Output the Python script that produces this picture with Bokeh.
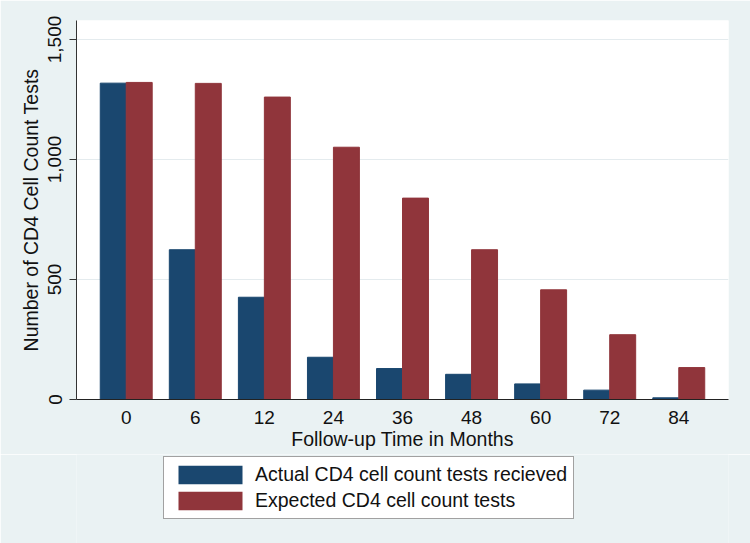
from bokeh.plotting import figure
from bokeh.layouts import column
from bokeh.models import (ColumnDataSource, FixedTicker, NumeralTickFormatter,
                          Legend, LegendItem, Range1d)
from bokeh.transform import dodge
from bokeh.embed import file_html
from bokeh.resources import INLINE

# ---- data ----
months = ["0", "6", "12", "24", "36", "48", "60", "72", "84"]
actual = [1318, 624, 426, 176, 129, 105, 65, 39, 7]
expected = [1321, 1317, 1260, 1051, 839, 624, 457, 270, 133]
y_ticks = [0, 500, 1000, 1500]
series_labels = ["Actual CD4 cell count tests recieved", "Expected CD4 cell count tests"]

NAVY = "#1a476f"
MAROON = "#90353b"
BG = "#eaf2f3"
FONT = "Liberation Sans"

pos = list(range(len(months)))
src = ColumnDataSource(dict(pos=pos, actual=actual, expected=expected))

p = figure(width=750, height=454, output_backend="svg", toolbar_location=None,
           x_range=Range1d(-0.72, 8.72), y_range=Range1d(0, 1579),
           min_border_left=76, min_border_right=22, min_border_top=20,
           min_border_bottom=55)
p.border_fill_color = BG
p.background_fill_color = "white"
p.outline_line_color = None

r1 = p.vbar(x=dodge("pos", -0.188), top="actual", width=0.376, source=src,
            fill_color=NAVY, line_color=NAVY)
r2 = p.vbar(x=dodge("pos", 0.188), top="expected", width=0.376, source=src,
            fill_color=MAROON, line_color=MAROON)

# axes
p.xaxis.ticker = FixedTicker(ticks=pos)
p.xaxis.major_label_overrides = {i: m for i, m in enumerate(months)}
p.xaxis.major_tick_out = 0
p.xaxis.major_tick_in = 0
p.xaxis.minor_tick_out = 0
p.xaxis.minor_tick_in = 0
p.xaxis.axis_label = "Follow-up Time in Months"
p.xaxis.major_label_standoff = 11
p.xaxis.axis_label_standoff = 1
p.xaxis.axis_line_color = "#222222"

p.yaxis.ticker = FixedTicker(ticks=y_ticks)
p.yaxis.formatter = NumeralTickFormatter(format="0,0")
p.yaxis.major_label_orientation = "vertical"
p.yaxis.major_tick_out = 7
p.yaxis.major_tick_in = 0
p.yaxis.minor_tick_out = 0
p.yaxis.minor_tick_in = 0
p.yaxis.axis_label = "Number of CD4 Cell Count Tests"
p.yaxis.major_label_standoff = 8
p.yaxis.axis_label_standoff = 4
p.yaxis.axis_line_color = "#333333"
p.yaxis.major_tick_line_color = "#333333"

for ax in (p.xaxis, p.yaxis):
    ax.major_label_text_font = FONT
    ax.major_label_text_font_size = "19px"
    ax.major_label_text_color = "#111111"
    ax.axis_label_text_font = FONT
    ax.axis_label_text_font_size = "19.5px"
    ax.axis_label_text_font_style = "normal"
    ax.axis_label_text_color = "#111111"

p.xgrid.visible = False
p.ygrid.ticker = FixedTicker(ticks=y_ticks)
p.ygrid.grid_line_color = "#e4ebee"

# legend strip below the chart (its own bars lie far outside its visible
# range, so only the legend swatches show)
q = figure(width=750, height=89, output_backend="svg", toolbar_location=None,
           x_range=p.x_range, y_range=Range1d(50000, 50001),
           x_axis_type=None, y_axis_type=None,
           min_border_left=76, min_border_right=22, min_border_top=0,
           min_border_bottom=0)
q.border_fill_color = BG
q.background_fill_color = BG
q.outline_line_color = None
q.xgrid.visible = False
q.ygrid.visible = False
k1 = q.vbar(x="pos", top="actual", width=0.376, source=src,
            fill_color=NAVY, line_color=None)
k2 = q.vbar(x="pos", top="expected", width=0.376, source=src,
            fill_color=MAROON, line_color=None)

legend = Legend(items=[LegendItem(label=series_labels[0], renderers=[k1]),
                       LegendItem(label=series_labels[1], renderers=[k2])],
                location=(87, 24), orientation="vertical")
legend.label_text_font = FONT
legend.label_text_font_size = "19.5px"
legend.label_text_color = "#111111"
legend.glyph_width = 80
legend.glyph_height = 23
legend.label_height = 19
legend.padding = 6
legend.spacing = 3
legend.margin = 0
legend.label_standoff = 5
legend.border_line_color = "#444444"
legend.border_line_width = 1
legend.background_fill_color = "white"
legend.background_fill_alpha = 1
q.add_layout(legend)

layout = column(p, q, spacing=0)
open("out.html", "w").write(file_html(layout, INLINE))
